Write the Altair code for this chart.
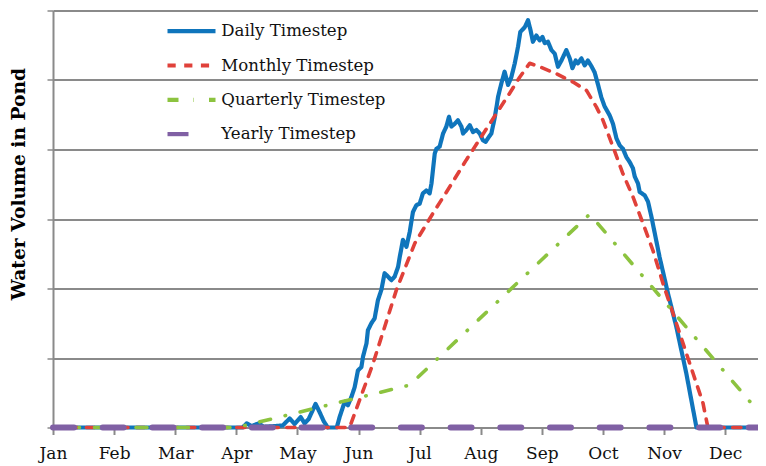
import altair as alt
import pandas as pd

# ---- data (day of year, water volume in gridline units) ----
series_names = ["Daily Timestep", "Monthly Timestep", "Quarterly Timestep", "Yearly Timestep"]

daily_day = [0, 93.1, 95.1, 97.5, 101.0, 103.4, 108.8, 112.8, 116.2, 118.6, 121.6, 123.5,
             125.5, 128.9, 130.9, 132.9, 134.9, 139.3, 140.7, 143.2, 144.8, 146.5, 148.1,
             149.7, 151.4, 152.2, 153.9, 154.6, 156.3, 157.9, 159.5, 161.2, 162.8, 164.5,
             166.1, 167.7, 169.4, 170.2, 171.8, 173.5, 175.1, 176.7, 178.4, 180.0, 181.6,
             183.3, 184.9, 185.8, 187.4, 188.2, 189.8, 191.5, 193.1, 194.4, 195.6, 197.2,
             198.8, 200.5, 201.3, 202.9, 204.6, 206.2, 207.9, 209.5, 211.1, 212.4, 213.5,
             215.2, 216.8, 218.0, 218.5, 220.1, 221.7, 223.4, 225.0, 226.7, 228.3, 229.4,
             231.6, 233.2, 234.4, 235.6, 237.3, 238.9, 240.3, 241.4, 243.0, 244.7, 246.3,
             247.9, 249.6, 252.0, 253.7, 255.0, 256.6, 257.7, 259.4, 261.0, 262.6, 264.3,
             265.9, 267.5, 269.2, 270.8, 273.3, 274.9, 276.6, 278.2, 279.8, 281.5, 283.1,
             284.7, 285.6, 287.2, 288.0, 290.5, 292.1, 293.8, 297.8, 301.9, 306.0, 310.9,
             315.9, 346]
daily_vol = [0, 0, 0.06, 0.02, 0.06, 0.01, 0.02, 0.03, 0.13, 0.05, 0.15, 0.06,
             0.12, 0.34, 0.22, 0.09, 0, 0, 0.15, 0.37, 0.32, 0.44, 0.58,
             0.82, 0.87, 1.02, 1.21, 1.40, 1.50, 1.57, 1.83, 1.98, 2.22, 2.17,
             2.12, 2.17, 2.31, 2.45, 2.70, 2.60, 2.81, 3.10, 3.20, 3.22, 3.37,
             3.41, 3.37, 3.51, 3.94, 4.01, 4.04, 4.23, 4.33, 4.47, 4.33, 4.37,
             4.42, 4.33, 4.23, 4.28, 4.35, 4.25, 4.28, 4.23, 4.13, 4.11, 4.16,
             4.23, 4.45, 4.66, 4.76, 4.95, 5.12, 4.93, 5.04, 5.24, 5.48, 5.69,
             5.76, 5.86, 5.72, 5.55, 5.64, 5.57, 5.62, 5.53, 5.55, 5.43, 5.38,
             5.19, 5.28, 5.43, 5.31, 5.17, 5.28, 5.24, 5.31, 5.21, 5.28, 5.20,
             5.11, 4.94, 4.75, 4.62, 4.49, 4.37, 4.16, 4.06, 4.01, 3.89, 3.82,
             3.73, 3.61, 3.51, 3.39, 3.34, 3.25, 3.03, 2.45, 1.93, 1.45, 0.78,
             0, 0]

monthly_day = [0, 144.2, 145.7, 157.1, 168.6, 177.6, 186.5, 194.7, 202.9, 213.5, 224.2,
               229.1, 234.0, 238.9, 247.1, 255.3, 261.9, 266.8, 270.0, 274.9, 279.8,
               284.7, 289.6, 294.5, 299.5, 304.4, 309.3, 314.2, 319.1, 321.5, 346]
monthly_vol = [0, 0, 0.01, 0.92, 1.98, 2.65, 3.08, 3.46, 3.85, 4.33, 4.81,
               5.04, 5.24, 5.19, 5.09, 4.97, 4.85, 4.61, 4.42, 4.04, 3.65,
               3.32, 2.94, 2.55, 2.07, 1.64, 1.21, 0.78, 0.35, 0, 0]

quarterly_day = [0, 90.2, 175.1, 263.5, 346]
quarterly_vol = [0, 0, 0.61, 3.07, 0.24]

yearly_day = [0, 346]
yearly_vol = [0, 0]

month_labels = ["Jan", "Feb", "Mar", "Apr", "May", "Jun",
                "Jul", "Aug", "Sep", "Oct", "Nov", "Dec"]
month_ticks = [0, 30, 60, 90, 120, 150, 180, 210, 240, 270, 300, 330]
grid_levels = [0, 1, 2, 3, 4, 5, 6]
x_end = 346.1

colors = ["#0f75bc", "#e0413a", "#8cc33f", "#8060a4"]
dashes = [[1, 0], [8.2, 8.5], [11, 15, 0.5, 15], [21, 28.7]]
widths = [4.2, 3.6, 3.6, 6]

frames = []
for name, d, v in zip(series_names,
                      [daily_day, monthly_day, quarterly_day, yearly_day],
                      [daily_vol, monthly_vol, quarterly_vol, yearly_vol]):
    frames.append(pd.DataFrame({"day": d, "vol": v, "series": name}))
df = pd.concat(frames, ignore_index=True)

FONT = "DejaVu Serif"
GRID = "#8a8a8a"

label_expr = "[" + ",".join("'%s'" % m for m in month_labels) + "][round(datum.value/30)]"

x_enc = alt.X("day:Q",
              scale=alt.Scale(domain=[0, x_end], nice=False, zero=False),
              axis=alt.Axis(values=month_ticks, labelExpr=label_expr, title=None,
                            grid=False, domain=True, domainColor=GRID, domainWidth=2,
                            ticks=True, tickColor=GRID, tickWidth=2, tickSize=7,
                            labelFont=FONT, labelFontSize=17, labelColor="#111111",
                            labelPadding=11, labelFlush=False, labelOverlap=False))
y_enc = alt.Y("vol:Q",
              scale=alt.Scale(domain=[0, 6], nice=False, zero=True),
              axis=alt.Axis(values=grid_levels, labels=False, grid=True,
                            gridColor=GRID, gridWidth=2,
                            domain=True, domainColor=GRID, domainWidth=2,
                            ticks=True, tickColor=GRID, tickWidth=1.5, tickSize=6,
                            title="Water Volume in Pond", titleFont=FONT,
                            titleFontSize=18.7, titleFontWeight="bold", titleColor="#000000",
                            titleAngle=270, titleX=-35, titleY=173,
                            titleAlign="center", titleBaseline="middle"))
color_enc = alt.Color("series:N", scale=alt.Scale(domain=series_names, range=colors),
                      legend=alt.Legend(title=None))
dash_enc = alt.StrokeDash("series:N", scale=alt.Scale(domain=series_names, range=dashes),
                          legend=alt.Legend(title=None))

layers = []
for name, w in zip(series_names, widths):
    layers.append(
        alt.Chart(df)
        .transform_filter(alt.datum.series == name)
        .mark_line(strokeWidth=w, strokeCap="round", strokeJoin="round")
        .encode(x=x_enc, y=y_enc, color=color_enc, strokeDash=dash_enc,
                order=alt.Order("day:Q"))
    )

chart = (
    alt.layer(*layers)
    .properties(width=705, height=417,
                autosize=alt.AutoSizeParams(type="none"),
                padding={"left": 45, "top": 2.5, "right": 0, "bottom": 38})
    .configure_view(stroke=None)
    .configure_legend(orient="none", legendX=100, legendY=8.2, padding=0,
                      symbolType="M-2.4,0L2.4,0", symbolSize=400, symbolStrokeWidth=4.2,
                      symbolOffset=26, labelOffset=17.3, rowPadding=12.3, labelLimit=0,
                      labelFont=FONT, labelFontSize=16.6, labelColor="#111111",
                      direction="vertical")
)

chart.save("out.html", embed_options={"renderer": "svg", "actions": False})
